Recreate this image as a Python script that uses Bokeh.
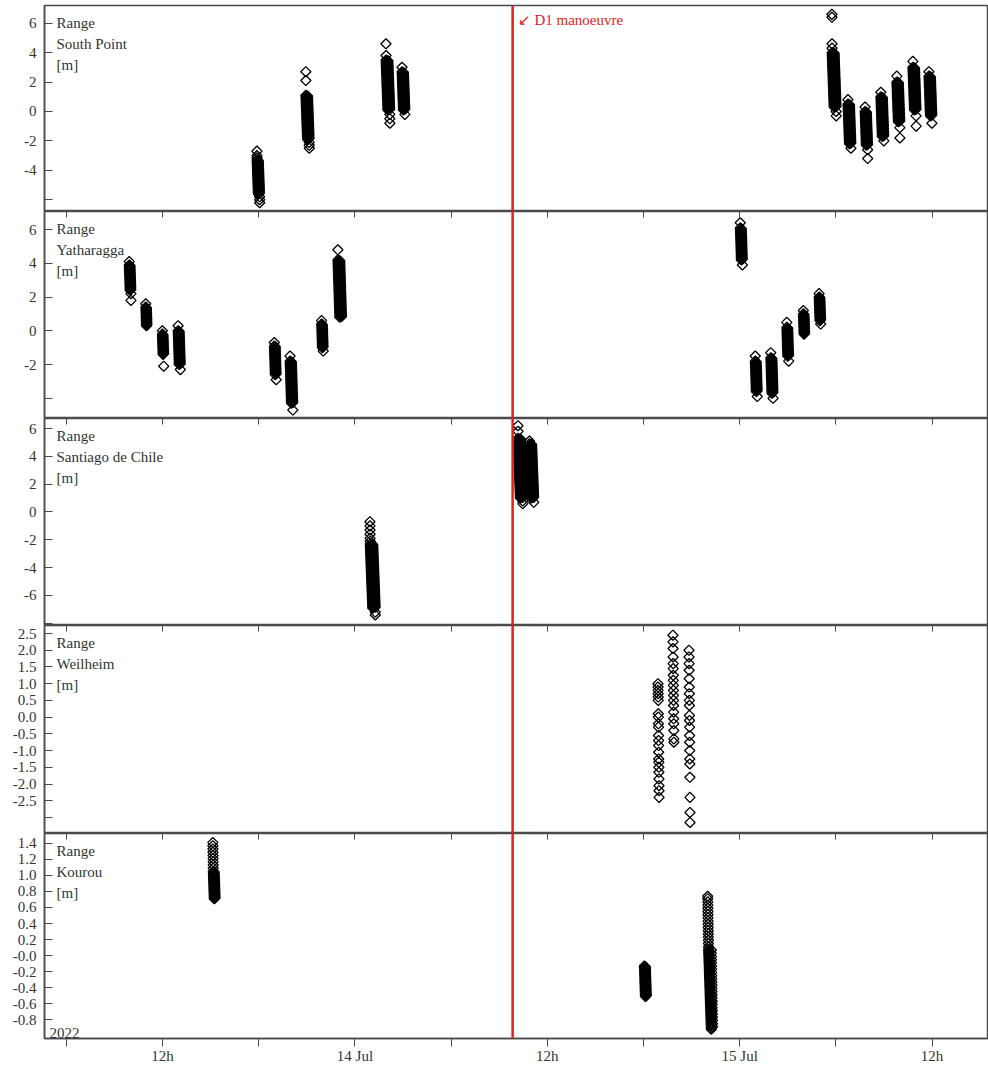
import math
import pandas as pd
from bokeh.plotting import figure
from bokeh.models import (Range1d, FixedTicker, CustomJSTickFormatter, LinearAxis,
                          Span, Label)
from bokeh.layouts import column
from bokeh.embed import file_html
from bokeh.resources import INLINE

# ---------------------------------------------------------------- data
X_START = "2022-07-13 04:38"
X_END = "2022-07-15 15:31"
MANOEUVRE_TIME = "2022-07-14 09:50"
MANOEUVRE_LABEL = "\u2199 D1 manoeuvre"
YEAR_LABEL = "2022"
SAMPLE_STEP_S = 12  # ranging sample cadence within a pass

XTICK_TIMES = ["2022-07-13 06:00", "2022-07-13 12:00", "2022-07-13 18:00",
               "2022-07-14 00:00", "2022-07-14 06:00", "2022-07-14 12:00",
               "2022-07-14 18:00", "2022-07-15 00:00", "2022-07-15 06:00",
               "2022-07-15 12:00"]
XTICK_LABELS = ["", "12h", "", "14 Jul", "", "12h", "", "15 Jul", "", "12h"]

SP_NAME = "South Point"
SP_PASS_START = ["2022-07-13 17:53", "2022-07-13 20:56", "2022-07-14 01:56",
                 "2022-07-14 02:56", "2022-07-15 05:45", "2022-07-15 06:45",
                 "2022-07-15 07:49", "2022-07-15 08:48", "2022-07-15 09:48",
                 "2022-07-15 10:48", "2022-07-15 11:48"]
SP_PASS_VALUES = [
    [-2.7, -3.0, -3.15,
     -3.3, -3.4, -3.5, -3.6, -3.7, -3.8, -3.9, -4.0, -4.1, -4.2, -4.3, -4.4, -4.5, -4.6, -4.7,
     -4.8, -4.9, -5.0, -5.1, -5.2, -5.3, -5.4, -5.5, -5.6,
     -3.35, -3.45, -3.55, -3.65, -3.75, -3.85, -3.95, -4.05, -4.15, -4.25, -4.35, -4.45, -4.55,
     -4.65, -4.75, -4.85, -4.95, -5.05, -5.15, -5.25, -5.35, -5.45, -5.55,
     -5.8, -6.0, -6.2],
    [2.7, 2.1,
     1.1, 1.0, 0.9, 0.8, 0.7, 0.6, 0.5, 0.4, 0.3, 0.2, 0.1, 0.0, -0.1, -0.2, -0.3, -0.4, -0.5,
     -0.6, -0.7, -0.8, -0.9, -1.0, -1.1, -1.2, -1.3, -1.4, -1.5, -1.6, -1.7, -1.8, -1.9,
     1.05, 0.95, 0.85, 0.75, 0.65, 0.55, 0.45, 0.35, 0.25, 0.15, 0.05, -0.05, -0.15, -0.25,
     -0.35, -0.45, -0.55, -0.65, -0.75, -0.85, -0.95, -1.05, -1.15, -1.25, -1.35, -1.45,
     -1.55, -1.65, -1.75, -1.85,
     -2.1, -2.3, -2.5],
    [4.6, 3.8,
     3.5, 3.4, 3.3, 3.2, 3.1, 3.0, 2.9, 2.8, 2.7, 2.6, 2.5, 2.4, 2.3, 2.2, 2.1, 2.0, 1.9, 1.8,
     1.7, 1.6, 1.5, 1.4, 1.3, 1.2, 1.1, 1.0, 0.9, 0.8, 0.7, 0.6, 0.5, 0.4, 0.3, 0.2, 0.1,
     3.45, 3.35, 3.25, 3.15, 3.05, 2.95, 2.85, 2.75, 2.65, 2.55, 2.45, 2.35, 2.25, 2.15, 2.05,
     1.95, 1.85, 1.75, 1.65, 1.55, 1.45, 1.35, 1.25, 1.15, 1.05, 0.95, 0.85, 0.75, 0.65, 0.55,
     0.45, 0.35, 0.25, 0.15,
     -0.2, -0.5, -0.8],
    [3.0,
     2.7, 2.6, 2.5, 2.4, 2.3, 2.2, 2.1, 2.0, 1.9, 1.8, 1.7, 1.6, 1.5, 1.4, 1.3, 1.2, 1.1, 1.0,
     0.9, 0.8, 0.7, 0.6, 0.5, 0.4, 0.3, 0.2, 0.1,
     2.65, 2.55, 2.45, 2.35, 2.25, 2.15, 2.05, 1.95, 1.85, 1.75, 1.65, 1.55, 1.45, 1.35, 1.25,
     1.15, 1.05, 0.95, 0.85, 0.75, 0.65, 0.55, 0.45, 0.35, 0.25, 0.15,
     -0.2],
    [6.6, 6.4, 4.6, 4.3,
     4.0, 3.9, 3.8, 3.7, 3.6, 3.5, 3.4, 3.3, 3.2, 3.1, 3.0, 2.9, 2.8, 2.7, 2.6, 2.5, 2.4, 2.3,
     2.2, 2.1, 2.0, 1.9, 1.8, 1.7, 1.6, 1.5, 1.4, 1.3, 1.2, 1.1, 1.0, 0.9, 0.8, 0.7, 0.6, 0.5,
     0.4, 0.3,
     3.95, 3.85, 3.75, 3.65, 3.55, 3.45, 3.35, 3.25, 3.15, 3.05, 2.95, 2.85, 2.75, 2.65, 2.55,
     2.45, 2.35, 2.25, 2.15, 2.05, 1.95, 1.85, 1.75, 1.65, 1.55, 1.45, 1.35, 1.25, 1.15, 1.05,
     0.95, 0.85, 0.75, 0.65, 0.55, 0.45, 0.35,
     0.0, -0.3],
    [0.8,
     0.5, 0.4, 0.3, 0.2, 0.1, 0.0, -0.1, -0.2, -0.3, -0.4, -0.5, -0.6, -0.7, -0.8, -0.9, -1.0,
     -1.1, -1.2, -1.3, -1.4, -1.5, -1.6, -1.7, -1.8, -1.9, -2.0, -2.1, -2.2,
     0.45, 0.35, 0.25, 0.15, 0.05, -0.05, -0.15, -0.25, -0.35, -0.45, -0.55, -0.65, -0.75,
     -0.85, -0.95, -1.05, -1.15, -1.25, -1.35, -1.45, -1.55, -1.65, -1.75, -1.85, -1.95,
     -2.05, -2.15,
     -2.5],
    [0.3,
     0.0, -0.1, -0.2, -0.3, -0.4, -0.5, -0.6, -0.7, -0.8, -0.9, -1.0, -1.1, -1.2, -1.3, -1.4,
     -1.5, -1.6, -1.7, -1.8, -1.9, -2.0, -2.1, -2.2, -2.3,
     -0.05, -0.15, -0.25, -0.35, -0.45, -0.55, -0.65, -0.75, -0.85, -0.95, -1.05, -1.15,
     -1.25, -1.35, -1.45, -1.55, -1.65, -1.75, -1.85, -1.95, -2.05, -2.15, -2.25,
     -2.6, -3.2],
    [1.3,
     1.0, 0.9, 0.8, 0.7, 0.6, 0.5, 0.4, 0.3, 0.2, 0.1, 0.0, -0.1, -0.2, -0.3, -0.4, -0.5, -0.6,
     -0.7, -0.8, -0.9, -1.0, -1.1, -1.2, -1.3, -1.4, -1.5, -1.6, -1.7,
     0.95, 0.85, 0.75, 0.65, 0.55, 0.45, 0.35, 0.25, 0.15, 0.05, -0.05, -0.15, -0.25, -0.35,
     -0.45, -0.55, -0.65, -0.75, -0.85, -0.95, -1.05, -1.15, -1.25, -1.35, -1.45, -1.55, -1.65,
     -2.0],
    [2.4,
     2.0, 1.9, 1.8, 1.7, 1.6, 1.5, 1.4, 1.3, 1.2, 1.1, 1.0, 0.9, 0.8, 0.7, 0.6, 0.5, 0.4, 0.3,
     0.2, 0.1, 0.0, -0.1, -0.2, -0.3, -0.4, -0.5, -0.6, -0.7,
     1.95, 1.85, 1.75, 1.65, 1.55, 1.45, 1.35, 1.25, 1.15, 1.05, 0.95, 0.85, 0.75, 0.65, 0.55,
     0.45, 0.35, 0.25, 0.15, 0.05, -0.05, -0.15, -0.25, -0.35, -0.45, -0.55, -0.65,
     -1.1, -1.8],
    [3.4,
     3.0, 2.9, 2.8, 2.7, 2.6, 2.5, 2.4, 2.3, 2.2, 2.1, 2.0, 1.9, 1.8, 1.7, 1.6, 1.5, 1.4, 1.3,
     1.2, 1.1, 1.0, 0.9, 0.8, 0.7, 0.6, 0.5, 0.4, 0.3, 0.2, 0.1,
     2.95, 2.85, 2.75, 2.65, 2.55, 2.45, 2.35, 2.25, 2.15, 2.05, 1.95, 1.85, 1.75, 1.65, 1.55,
     1.45, 1.35, 1.25, 1.15, 1.05, 0.95, 0.85, 0.75, 0.65, 0.55, 0.45, 0.35, 0.25, 0.15,
     -0.3, -1.0],
    [2.7,
     2.4, 2.3, 2.2, 2.1, 2.0, 1.9, 1.8, 1.7, 1.6, 1.5, 1.4, 1.3, 1.2, 1.1, 1.0, 0.9, 0.8, 0.7,
     0.6, 0.5, 0.4, 0.3, 0.2, 0.1, 0.0, -0.1, -0.2, -0.3,
     2.35, 2.25, 2.15, 2.05, 1.95, 1.85, 1.75, 1.65, 1.55, 1.45, 1.35, 1.25, 1.15, 1.05, 0.95,
     0.85, 0.75, 0.65, 0.55, 0.45, 0.35, 0.25, 0.15, 0.05, -0.05, -0.15, -0.25,
     -0.8],
]
SP_YRANGE = (-6.8, 7.2)
SP_YTICKS = [-6, -4, -2, 0, 2, 4, 6]
SP_YTICK_LABELS = ["", "-4", "-2", "0", "2", "4", "6"]

YA_NAME = "Yatharagga"
YA_PASS_START = ["2022-07-13 09:55", "2022-07-13 10:57", "2022-07-13 11:59",
                 "2022-07-13 12:58", "2022-07-13 18:58", "2022-07-13 19:57",
                 "2022-07-13 21:55", "2022-07-13 22:56", "2022-07-15 00:02",
                 "2022-07-15 00:58", "2022-07-15 01:56", "2022-07-15 02:56",
                 "2022-07-15 03:58", "2022-07-15 04:57"]
YA_PASS_VALUES = [
    [4.1,
     3.9, 3.8, 3.7, 3.6, 3.5, 3.4, 3.3, 3.2, 3.1, 3.0, 2.9, 2.8, 2.7, 2.6, 2.5, 2.4,
     3.85, 3.75, 3.65, 3.55, 3.45, 3.35, 3.25, 3.15, 3.05, 2.95, 2.85, 2.75, 2.65, 2.55, 2.45,
     2.2, 1.8],
    [1.6,
     1.4, 1.3, 1.2, 1.1, 1.0, 0.9, 0.8, 0.7, 0.6, 0.5, 0.4, 0.3,
     1.35, 1.25, 1.15, 1.05, 0.95, 0.85, 0.75, 0.65, 0.55, 0.45, 0.35],
    [0.0,
     -0.2, -0.3, -0.4, -0.5, -0.6, -0.7, -0.8, -0.9, -1.0, -1.1, -1.2, -1.3, -1.4,
     -0.25, -0.35, -0.45, -0.55, -0.65, -0.75, -0.85, -0.95, -1.05, -1.15, -1.25, -1.35,
     -2.1],
    [0.3,
     0.0, -0.1, -0.2, -0.3, -0.4, -0.5, -0.6, -0.7, -0.8, -0.9, -1.0, -1.1, -1.2, -1.3, -1.4,
     -1.5, -1.6, -1.7, -1.8, -1.9, -2.0,
     -0.05, -0.15, -0.25, -0.35, -0.45, -0.55, -0.65, -0.75, -0.85, -0.95, -1.05, -1.15,
     -1.25, -1.35, -1.45, -1.55, -1.65, -1.75, -1.85, -1.95,
     -2.3],
    [-0.7,
     -0.9, -1.0, -1.1, -1.2, -1.3, -1.4, -1.5, -1.6, -1.7, -1.8, -1.9, -2.0, -2.1, -2.2, -2.3,
     -2.4, -2.5, -2.6,
     -0.95, -1.05, -1.15, -1.25, -1.35, -1.45, -1.55, -1.65, -1.75, -1.85, -1.95, -2.05,
     -2.15, -2.25, -2.35, -2.45, -2.55,
     -2.9],
    [-1.5,
     -1.8, -1.9, -2.0, -2.1, -2.2, -2.3, -2.4, -2.5, -2.6, -2.7, -2.8, -2.9, -3.0, -3.1, -3.2,
     -3.3, -3.4, -3.5, -3.6, -3.7, -3.8, -3.9, -4.0, -4.1, -4.2, -4.3,
     -1.85, -1.95, -2.05, -2.15, -2.25, -2.35, -2.45, -2.55, -2.65, -2.75, -2.85, -2.95,
     -3.05, -3.15, -3.25, -3.35, -3.45, -3.55, -3.65, -3.75, -3.85, -3.95, -4.05, -4.15, -4.25,
     -4.7],
    [0.6,
     0.4, 0.3, 0.2, 0.1, 0.0, -0.1, -0.2, -0.3, -0.4, -0.5, -0.6, -0.7, -0.8, -0.9, -1.0,
     0.35, 0.25, 0.15, 0.05, -0.05, -0.15, -0.25, -0.35, -0.45, -0.55, -0.65, -0.75, -0.85,
     -0.95,
     -1.2],
    [4.8,
     4.2, 4.1, 4.0, 3.9, 3.8, 3.7, 3.6, 3.5, 3.4, 3.3, 3.2, 3.1, 3.0, 2.9, 2.8, 2.7, 2.6, 2.5,
     2.4, 2.3, 2.2, 2.1, 2.0, 1.9, 1.8, 1.7, 1.6, 1.5, 1.4, 1.3, 1.2, 1.1, 1.0, 0.9, 0.8,
     4.15, 4.05, 3.95, 3.85, 3.75, 3.65, 3.55, 3.45, 3.35, 3.25, 3.15, 3.05, 2.95, 2.85, 2.75,
     2.65, 2.55, 2.45, 2.35, 2.25, 2.15, 2.05, 1.95, 1.85, 1.75, 1.65, 1.55, 1.45, 1.35, 1.25,
     1.15, 1.05, 0.95, 0.85],
    [6.4,
     6.1, 6.0, 5.9, 5.8, 5.7, 5.6, 5.5, 5.4, 5.3, 5.2, 5.1, 5.0, 4.9, 4.8, 4.7, 4.6, 4.5, 4.4,
     4.3, 4.2,
     6.05, 5.95, 5.85, 5.75, 5.65, 5.55, 5.45, 5.35, 5.25, 5.15, 5.05, 4.95, 4.85, 4.75, 4.65,
     4.55, 4.45, 4.35, 4.25,
     3.9],
    [-1.5,
     -1.8, -1.9, -2.0, -2.1, -2.2, -2.3, -2.4, -2.5, -2.6, -2.7, -2.8, -2.9, -3.0, -3.1, -3.2,
     -3.3, -3.4, -3.5, -3.6,
     -1.85, -1.95, -2.05, -2.15, -2.25, -2.35, -2.45, -2.55, -2.65, -2.75, -2.85, -2.95,
     -3.05, -3.15, -3.25, -3.35, -3.45, -3.55,
     -3.9],
    [-1.3,
     -1.6, -1.7, -1.8, -1.9, -2.0, -2.1, -2.2, -2.3, -2.4, -2.5, -2.6, -2.7, -2.8, -2.9, -3.0,
     -3.1, -3.2, -3.3, -3.4, -3.5, -3.6, -3.7,
     -1.65, -1.75, -1.85, -1.95, -2.05, -2.15, -2.25, -2.35, -2.45, -2.55, -2.65, -2.75,
     -2.85, -2.95, -3.05, -3.15, -3.25, -3.35, -3.45, -3.55, -3.65,
     -4.0],
    [0.5,
     0.2, 0.1, 0.0, -0.1, -0.2, -0.3, -0.4, -0.5, -0.6, -0.7, -0.8, -0.9, -1.0, -1.1, -1.2,
     -1.3, -1.4, -1.5,
     0.15, 0.05, -0.05, -0.15, -0.25, -0.35, -0.45, -0.55, -0.65, -0.75, -0.85, -0.95, -1.05,
     -1.15, -1.25, -1.35, -1.45,
     -1.8],
    [1.2,
     1.0, 0.9, 0.8, 0.7, 0.6, 0.5, 0.4, 0.3, 0.2, 0.1, 0.0, -0.1, -0.2,
     0.95, 0.85, 0.75, 0.65, 0.55, 0.45, 0.35, 0.25, 0.15, 0.05, -0.05, -0.15],
    [2.2,
     2.0, 1.9, 1.8, 1.7, 1.6, 1.5, 1.4, 1.3, 1.2, 1.1, 1.0, 0.9, 0.8, 0.7, 0.6,
     1.95, 1.85, 1.75, 1.65, 1.55, 1.45, 1.35, 1.25, 1.15, 1.05, 0.95, 0.85, 0.75, 0.65,
     0.4],
]
YA_YRANGE = (-5.2, 7.07)
YA_YTICKS = [-4, -2, 0, 2, 4, 6]
YA_YTICK_LABELS = ["", "-2", "0", "2", "4", "6"]

SA_NAME = "Santiago de Chile"
SA_PASS_START = ["2022-07-14 00:56", "2022-07-14 10:10", "2022-07-14 10:53"]
SA_PASS_VALUES = [
    [-0.7, -1.0, -1.3, -1.6, -1.9, -2.1,
     -2.3, -2.4, -2.5, -2.6, -2.7, -2.8, -2.9, -3.0, -3.1, -3.2, -3.3, -3.4, -3.5, -3.6, -3.7,
     -3.8, -3.9, -4.0, -4.1, -4.2, -4.3, -4.4, -4.5, -4.6, -4.7, -4.8, -4.9, -5.0, -5.1, -5.2,
     -5.3, -5.4, -5.5, -5.6, -5.7, -5.8, -5.9, -6.0, -6.1, -6.2, -6.3, -6.4, -6.5, -6.6, -6.7,
     -6.8, -6.9,
     -2.35, -2.45, -2.55, -2.65, -2.75, -2.85, -2.95, -3.05, -3.15, -3.25, -3.35, -3.45,
     -3.55, -3.65, -3.75, -3.85, -3.95, -4.05, -4.15, -4.25, -4.35, -4.45, -4.55, -4.65,
     -4.75, -4.85, -4.95, -5.05, -5.15, -5.25, -5.35, -5.45, -5.55, -5.65, -5.75, -5.85,
     -5.95, -6.05, -6.15, -6.25, -6.35, -6.45, -6.55, -6.65, -6.75, -6.85,
     -7.2, -7.4],
    [6.2, 5.8,
     5.3, 5.2, 5.1, 5.0, 4.9, 4.8, 4.7, 4.6, 4.5, 4.4, 4.3, 4.2, 4.1, 4.0, 3.9, 3.8, 3.7, 3.6,
     3.5, 3.4, 3.3, 3.2, 3.1, 3.0, 2.9, 2.8, 2.7, 2.6, 2.5, 2.4, 2.3, 2.2, 2.1, 2.0, 1.9, 1.8,
     1.7, 1.6, 1.5, 1.4, 1.3, 1.2, 1.1, 1.0,
     5.25, 5.15, 5.05, 4.95, 4.85, 4.75, 4.65, 4.55, 4.45, 4.35, 4.25, 4.15, 4.05, 3.95, 3.85,
     3.75, 3.65, 3.55, 3.45, 3.35, 3.25, 3.15, 3.05, 2.95, 2.85, 2.75, 2.65, 2.55, 2.45, 2.35,
     2.25, 2.15, 2.05, 1.95, 1.85, 1.75, 1.65, 1.55, 1.45, 1.35, 1.25, 1.15, 1.05,
     0.8, 0.6],
    [5.1,
     4.9, 4.8, 4.7, 4.6, 4.5, 4.4, 4.3, 4.2, 4.1, 4.0, 3.9, 3.8, 3.7, 3.6, 3.5, 3.4, 3.3, 3.2,
     3.1, 3.0, 2.9, 2.8, 2.7, 2.6, 2.5, 2.4, 2.3, 2.2, 2.1, 2.0, 1.9, 1.8, 1.7, 1.6, 1.5, 1.4,
     1.3, 1.2, 1.1, 1.0,
     4.85, 4.75, 4.65, 4.55, 4.45, 4.35, 4.25, 4.15, 4.05, 3.95, 3.85, 3.75, 3.65, 3.55, 3.45,
     3.35, 3.25, 3.15, 3.05, 2.95, 2.85, 2.75, 2.65, 2.55, 2.45, 2.35, 2.25, 2.15, 2.05, 1.95,
     1.85, 1.75, 1.65, 1.55, 1.45, 1.35, 1.25, 1.15, 1.05,
     0.7],
]
SA_YRANGE = (-8.16, 6.72)
SA_YTICKS = [-8, -6, -4, -2, 0, 2, 4, 6]
SA_YTICK_LABELS = ["", "-6", "-4", "-2", "0", "2", "4", "6"]

WE_NAME = "Weilheim"
WE_PASS_START = ["2022-07-14 18:54", "2022-07-14 19:50", "2022-07-14 20:50"]
WE_PASS_VALUES = [
    [1.0, 0.9, 0.8, 0.7, 0.6, 0.5, 0.1, 0.0, -0.2, -0.3, -0.55, -0.7, -0.85, -1.05, -1.25,
     -1.35, -1.5, -1.65, -1.85, -2.05, -2.2, -2.4],
    [2.45, 2.25, 2.05, 1.8, 1.6, 1.45, 1.25, 1.1, 0.95, 0.8, 0.65, 0.5, 0.35, 0.15, -0.05,
     -0.2, -0.4, -0.65, -0.75],
    [2.0, 1.8, 1.6, 1.4, 1.15, 0.9, 0.7, 0.5, 0.35, 0.05, -0.1, -0.3, -0.55, -0.75, -1.0,
     -1.25, -1.4, -1.8, -2.4, -2.85, -3.15],
]
WE_YRANGE = (-3.48, 2.74)
WE_YTICKS = [-3.0, -2.5, -2.0, -1.5, -1.0, -0.5, 0.0, 0.5, 1.0, 1.5, 2.0, 2.5]
WE_YTICK_LABELS = ["", "-2.5", "-2.0", "-1.5", "-1.0", "-0.5", "0.0", "0.5", "1.0",
                   "1.5", "2.0", "2.5"]

KO_NAME = "Kourou"
KO_PASS_START = ["2022-07-13 15:08", "2022-07-14 18:03", "2022-07-14 22:00"]
KO_PASS_VALUES = [
    [1.41, 1.37, 1.33, 1.29, 1.25, 1.21, 1.17, 1.13, 1.09,
     1.05, 1.03, 1.01, 0.99, 0.97, 0.95, 0.93, 0.91, 0.89, 0.87, 0.85, 0.83, 0.81, 0.79, 0.77,
     0.75, 0.73, 0.71,
     1.04, 1.02, 1.0, 0.98, 0.96, 0.94, 0.92, 0.9, 0.88, 0.86, 0.84, 0.82, 0.8, 0.78, 0.76,
     0.74, 0.72],
    [-0.13, -0.15, -0.17, -0.19, -0.21, -0.23, -0.25, -0.27, -0.29, -0.31, -0.33, -0.35,
     -0.37, -0.39, -0.41, -0.43, -0.45, -0.47, -0.49, -0.51,
     -0.14, -0.16, -0.18, -0.2, -0.22, -0.24, -0.26, -0.28, -0.3, -0.32, -0.34, -0.36, -0.38,
     -0.4, -0.42, -0.44, -0.46, -0.48, -0.5],
    [0.74, 0.71, 0.67, 0.63, 0.59, 0.55, 0.51, 0.47, 0.43, 0.39, 0.35, 0.31, 0.27, 0.23, 0.19,
     0.15, 0.11,
     0.08, 0.06, 0.04, 0.02, 0.0, -0.02, -0.04, -0.06, -0.08, -0.1, -0.12, -0.14, -0.16, -0.18,
     -0.2, -0.22, -0.24, -0.26, -0.28, -0.3, -0.32, -0.34, -0.36, -0.38, -0.4, -0.42, -0.44,
     -0.46, -0.48, -0.5, -0.52, -0.54, -0.56, -0.58, -0.6, -0.62, -0.64, -0.66, -0.68, -0.7,
     -0.72, -0.74, -0.76, -0.78, -0.8, -0.82, -0.84, -0.86, -0.88, -0.9, -0.92,
     0.07, 0.03, -0.01, -0.05, -0.09, -0.13, -0.17, -0.21, -0.25, -0.29, -0.33, -0.37, -0.41,
     -0.45, -0.49, -0.53, -0.57, -0.61, -0.65, -0.69, -0.73, -0.77, -0.81, -0.85, -0.89],
]
KO_YRANGE = (-1.036, 1.524)
KO_YTICKS = [-0.8, -0.6, -0.4, -0.2, 0.0, 0.2, 0.4, 0.6, 0.8, 1.0, 1.2, 1.4]
KO_YTICK_LABELS = ["-0.8", "-0.6", "-0.4", "-0.2", "-0.0", "0.2", "0.4", "0.6", "0.8",
                   "1.0", "1.2", "1.4"]

# ---------------------------------------------------------------- style
FONT = "Liberation Serif"
RED = "#e3201f"
FRAME = "#4a4a4a"
TEXT = "#333333"
FRAME_W = 944
LEFT_BORDER = 44
FRAME_HEIGHTS = [206, 207, 207, 208, 205]


def ms(s):
    return pd.Timestamp(s).value / 1e6


LOOKUP_JS = """
for (let i = 0; i < tick_values.length; i++) {
  if (Math.abs(tick_values[i] - tick) < 1e-6 * Math.max(1, Math.abs(tick))) return tick_labels[i];
}
return "";
"""


def lookup_formatter(values, labels):
    return CustomJSTickFormatter(args=dict(tick_values=list(values), tick_labels=list(labels)),
                                 code=LOOKUP_JS)


xtick_ms = [ms(t) for t in XTICK_TIMES]
x_range = Range1d(ms(X_START), ms(X_END))


def pass_points(starts, values):
    xs, ys = [], []
    for s, vals in zip(starts, values):
        t0 = pd.Timestamp(s)
        for i, v in enumerate(vals):
            xs.append((t0 + pd.Timedelta(seconds=SAMPLE_STEP_S * i)).value / 1e6)
            ys.append(v)
    return xs, ys


def make_panel(name, starts, values, yrange, yticks, ylabels, fh, first=False, last=False):
    p = figure(frame_width=FRAME_W, frame_height=fh, x_range=x_range,
               y_range=Range1d(*yrange),
               x_axis_location=None, y_axis_location="left",
               toolbar_location=None, output_backend="svg",
               min_border_left=LEFT_BORDER, min_border_right=0,
               min_border_top=5 if first else 0, min_border_bottom=0)
    p.grid.visible = False
    p.outline_line_color = FRAME
    p.outline_line_width = 1.5
    p.background_fill_color = "white"
    p.border_fill_color = "white"

    ya = p.yaxis[0]
    ya.ticker = FixedTicker(ticks=yticks, minor_ticks=[])
    ya.formatter = lookup_formatter(yticks, ylabels)
    ya.major_tick_in = 8
    ya.major_tick_out = 0
    ya.minor_tick_in = 0
    ya.minor_tick_out = 0
    ya.axis_line_color = FRAME
    ya.axis_line_width = 1.5
    ya.major_tick_line_color = FRAME
    ya.major_label_text_font = FONT
    ya.major_label_text_font_size = "15px"
    ya.major_label_text_color = TEXT
    ya.major_label_standoff = 8

    if not first:
        ta = LinearAxis(ticker=FixedTicker(ticks=xtick_ms, minor_ticks=[]),
                        formatter=lookup_formatter([], []),
                        major_tick_in=6, major_tick_out=0,
                        minor_tick_in=0, minor_tick_out=0,
                        axis_line_color=None, major_tick_line_color=FRAME,
                        major_label_text_font_size="0px", major_label_standoff=0)
        p.add_layout(ta, "above")

    if last:
        ba = LinearAxis(ticker=FixedTicker(ticks=xtick_ms, minor_ticks=[]),
                        formatter=lookup_formatter(xtick_ms, XTICK_LABELS),
                        major_tick_in=0, major_tick_out=8,
                        minor_tick_in=0, minor_tick_out=0,
                        axis_line_color=FRAME, axis_line_width=1.5,
                        major_tick_line_color=FRAME,
                        major_label_text_font=FONT,
                        major_label_text_font_size="15px",
                        major_label_text_color=TEXT,
                        major_label_standoff=1)
        p.add_layout(ba, "below")
        p.add_layout(Label(x=5, y=1, x_units="screen", y_units="screen", text=YEAR_LABEL,
                           text_font=FONT, text_font_size="15px", text_color=TEXT,
                           text_baseline="bottom", text_align="left"))

    xs, ys = pass_points(starts, values)
    p.scatter(xs, ys, marker="square", angle=math.pi / 4, size=7.2, fill_color=None,
              line_color="black", line_width=1.3)

    p.add_layout(Span(location=ms(MANOEUVRE_TIME), dimension="height",
                      line_color=RED, line_width=2.5))
    if first:
        p.add_layout(Label(x=ms(MANOEUVRE_TIME), y=fh - 6, x_units="data",
                           y_units="screen", x_offset=5, text=MANOEUVRE_LABEL,
                           text_font=FONT, text_font_size="15px", text_color=RED,
                           text_baseline="top", text_align="left"))

    for i, txt in enumerate(["Range", name, "[m]"]):
        p.add_layout(Label(x=12, y=fh - 9 - 21 * i, x_units="screen", y_units="screen",
                           text=txt, text_font=FONT, text_font_size="15px",
                           text_color=TEXT, text_baseline="top", text_align="left"))
    return p


panels = [
    make_panel(SP_NAME, SP_PASS_START, SP_PASS_VALUES, SP_YRANGE, SP_YTICKS,
               SP_YTICK_LABELS, FRAME_HEIGHTS[0], first=True),
    make_panel(YA_NAME, YA_PASS_START, YA_PASS_VALUES, YA_YRANGE, YA_YTICKS,
               YA_YTICK_LABELS, FRAME_HEIGHTS[1]),
    make_panel(SA_NAME, SA_PASS_START, SA_PASS_VALUES, SA_YRANGE, SA_YTICKS,
               SA_YTICK_LABELS, FRAME_HEIGHTS[2]),
    make_panel(WE_NAME, WE_PASS_START, WE_PASS_VALUES, WE_YRANGE, WE_YTICKS,
               WE_YTICK_LABELS, FRAME_HEIGHTS[3]),
    make_panel(KO_NAME, KO_PASS_START, KO_PASS_VALUES, KO_YRANGE, KO_YTICKS,
               KO_YTICK_LABELS, FRAME_HEIGHTS[4], last=True),
]

layout = column(panels, spacing=0)
open("out.html", "w").write(file_html(layout, INLINE))
